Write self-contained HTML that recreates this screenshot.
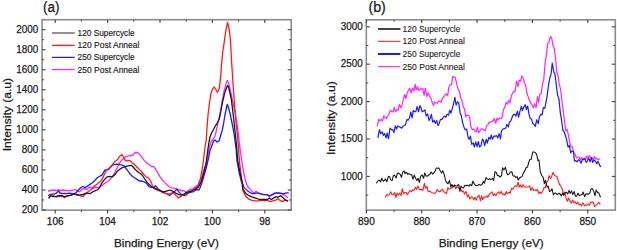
<!DOCTYPE html><html><head><meta charset="utf-8"><style>html,body{margin:0;padding:0;background:#fff;width:617px;height:250px;overflow:hidden}svg{display:block}text{font-family:"Liberation Sans", sans-serif;fill:#1a1a1a;stroke:#1a1a1a;stroke-width:0.25px}</style></head><body>
<svg width="617" height="250" viewBox="0 0 617 250">
<rect x="0" y="0" width="617" height="250" fill="#fff"/>
<rect x="42.1" y="19.7" width="249.1" height="190.4" fill="none" stroke="#8c8c8c" stroke-width="1.6"/>
<line x1="42.1" y1="210" x2="45.6" y2="210" stroke="#404040" stroke-width="1.1"/>
<line x1="291.2" y1="210" x2="287.7" y2="210" stroke="#404040" stroke-width="1.1"/>
<text x="38.2" y="213.1" font-size="10.8" text-anchor="end" textLength="16.5" lengthAdjust="spacingAndGlyphs">200</text>
<line x1="42.1" y1="189.97" x2="45.6" y2="189.97" stroke="#404040" stroke-width="1.1"/>
<line x1="291.2" y1="189.97" x2="287.7" y2="189.97" stroke="#404040" stroke-width="1.1"/>
<text x="38.2" y="193.07" font-size="10.8" text-anchor="end" textLength="16.5" lengthAdjust="spacingAndGlyphs">400</text>
<line x1="42.1" y1="169.93" x2="45.6" y2="169.93" stroke="#404040" stroke-width="1.1"/>
<line x1="291.2" y1="169.93" x2="287.7" y2="169.93" stroke="#404040" stroke-width="1.1"/>
<text x="38.2" y="173.03" font-size="10.8" text-anchor="end" textLength="16.5" lengthAdjust="spacingAndGlyphs">600</text>
<line x1="42.1" y1="149.9" x2="45.6" y2="149.9" stroke="#404040" stroke-width="1.1"/>
<line x1="291.2" y1="149.9" x2="287.7" y2="149.9" stroke="#404040" stroke-width="1.1"/>
<text x="38.2" y="153" font-size="10.8" text-anchor="end" textLength="16.5" lengthAdjust="spacingAndGlyphs">800</text>
<line x1="42.1" y1="129.86" x2="45.6" y2="129.86" stroke="#404040" stroke-width="1.1"/>
<line x1="291.2" y1="129.86" x2="287.7" y2="129.86" stroke="#404040" stroke-width="1.1"/>
<text x="38.2" y="132.96" font-size="10.8" text-anchor="end" textLength="22" lengthAdjust="spacingAndGlyphs">1000</text>
<line x1="42.1" y1="109.83" x2="45.6" y2="109.83" stroke="#404040" stroke-width="1.1"/>
<line x1="291.2" y1="109.83" x2="287.7" y2="109.83" stroke="#404040" stroke-width="1.1"/>
<text x="38.2" y="112.93" font-size="10.8" text-anchor="end" textLength="22" lengthAdjust="spacingAndGlyphs">1200</text>
<line x1="42.1" y1="89.8" x2="45.6" y2="89.8" stroke="#404040" stroke-width="1.1"/>
<line x1="291.2" y1="89.8" x2="287.7" y2="89.8" stroke="#404040" stroke-width="1.1"/>
<text x="38.2" y="92.9" font-size="10.8" text-anchor="end" textLength="22" lengthAdjust="spacingAndGlyphs">1400</text>
<line x1="42.1" y1="69.76" x2="45.6" y2="69.76" stroke="#404040" stroke-width="1.1"/>
<line x1="291.2" y1="69.76" x2="287.7" y2="69.76" stroke="#404040" stroke-width="1.1"/>
<text x="38.2" y="72.86" font-size="10.8" text-anchor="end" textLength="22" lengthAdjust="spacingAndGlyphs">1600</text>
<line x1="42.1" y1="49.73" x2="45.6" y2="49.73" stroke="#404040" stroke-width="1.1"/>
<line x1="291.2" y1="49.73" x2="287.7" y2="49.73" stroke="#404040" stroke-width="1.1"/>
<text x="38.2" y="52.83" font-size="10.8" text-anchor="end" textLength="22" lengthAdjust="spacingAndGlyphs">1800</text>
<line x1="42.1" y1="29.69" x2="45.6" y2="29.69" stroke="#404040" stroke-width="1.1"/>
<line x1="291.2" y1="29.69" x2="287.7" y2="29.69" stroke="#404040" stroke-width="1.1"/>
<text x="38.2" y="32.79" font-size="10.8" text-anchor="end" textLength="22" lengthAdjust="spacingAndGlyphs">2000</text>
<line x1="42.1" y1="199.98" x2="44.1" y2="199.98" stroke="#404040" stroke-width="1"/>
<line x1="291.2" y1="199.98" x2="289.2" y2="199.98" stroke="#404040" stroke-width="1"/>
<line x1="42.1" y1="179.95" x2="44.1" y2="179.95" stroke="#404040" stroke-width="1"/>
<line x1="291.2" y1="179.95" x2="289.2" y2="179.95" stroke="#404040" stroke-width="1"/>
<line x1="42.1" y1="159.91" x2="44.1" y2="159.91" stroke="#404040" stroke-width="1"/>
<line x1="291.2" y1="159.91" x2="289.2" y2="159.91" stroke="#404040" stroke-width="1"/>
<line x1="42.1" y1="139.88" x2="44.1" y2="139.88" stroke="#404040" stroke-width="1"/>
<line x1="291.2" y1="139.88" x2="289.2" y2="139.88" stroke="#404040" stroke-width="1"/>
<line x1="42.1" y1="119.85" x2="44.1" y2="119.85" stroke="#404040" stroke-width="1"/>
<line x1="291.2" y1="119.85" x2="289.2" y2="119.85" stroke="#404040" stroke-width="1"/>
<line x1="42.1" y1="99.81" x2="44.1" y2="99.81" stroke="#404040" stroke-width="1"/>
<line x1="291.2" y1="99.81" x2="289.2" y2="99.81" stroke="#404040" stroke-width="1"/>
<line x1="42.1" y1="79.78" x2="44.1" y2="79.78" stroke="#404040" stroke-width="1"/>
<line x1="291.2" y1="79.78" x2="289.2" y2="79.78" stroke="#404040" stroke-width="1"/>
<line x1="42.1" y1="59.75" x2="44.1" y2="59.75" stroke="#404040" stroke-width="1"/>
<line x1="291.2" y1="59.75" x2="289.2" y2="59.75" stroke="#404040" stroke-width="1"/>
<line x1="42.1" y1="39.71" x2="44.1" y2="39.71" stroke="#404040" stroke-width="1"/>
<line x1="291.2" y1="39.71" x2="289.2" y2="39.71" stroke="#404040" stroke-width="1"/>
<line x1="55.2" y1="210.1" x2="55.2" y2="213.6" stroke="#404040" stroke-width="1.1"/>
<line x1="55.2" y1="19.7" x2="55.2" y2="23" stroke="#404040" stroke-width="1.1"/>
<text x="55.2" y="224.6" font-size="10" text-anchor="middle">106</text>
<line x1="107.6" y1="210.1" x2="107.6" y2="213.6" stroke="#404040" stroke-width="1.1"/>
<line x1="107.6" y1="19.7" x2="107.6" y2="23" stroke="#404040" stroke-width="1.1"/>
<text x="107.6" y="224.6" font-size="10" text-anchor="middle">104</text>
<line x1="160" y1="210.1" x2="160" y2="213.6" stroke="#404040" stroke-width="1.1"/>
<line x1="160" y1="19.7" x2="160" y2="23" stroke="#404040" stroke-width="1.1"/>
<text x="160" y="224.6" font-size="10" text-anchor="middle">102</text>
<line x1="212.4" y1="210.1" x2="212.4" y2="213.6" stroke="#404040" stroke-width="1.1"/>
<line x1="212.4" y1="19.7" x2="212.4" y2="23" stroke="#404040" stroke-width="1.1"/>
<text x="212.4" y="224.6" font-size="10" text-anchor="middle">100</text>
<line x1="264.8" y1="210.1" x2="264.8" y2="213.6" stroke="#404040" stroke-width="1.1"/>
<line x1="264.8" y1="19.7" x2="264.8" y2="23" stroke="#404040" stroke-width="1.1"/>
<text x="264.8" y="224.6" font-size="10" text-anchor="middle">98</text>
<line x1="81.4" y1="210.1" x2="81.4" y2="212.1" stroke="#404040" stroke-width="1"/>
<line x1="81.4" y1="19.7" x2="81.4" y2="21.7" stroke="#404040" stroke-width="1"/>
<line x1="133.8" y1="210.1" x2="133.8" y2="212.1" stroke="#404040" stroke-width="1"/>
<line x1="133.8" y1="19.7" x2="133.8" y2="21.7" stroke="#404040" stroke-width="1"/>
<line x1="186.2" y1="210.1" x2="186.2" y2="212.1" stroke="#404040" stroke-width="1"/>
<line x1="186.2" y1="19.7" x2="186.2" y2="21.7" stroke="#404040" stroke-width="1"/>
<line x1="238.6" y1="210.1" x2="238.6" y2="212.1" stroke="#404040" stroke-width="1"/>
<line x1="238.6" y1="19.7" x2="238.6" y2="21.7" stroke="#404040" stroke-width="1"/>
<text x="43" y="11.9" font-size="14" textLength="16.4" lengthAdjust="spacingAndGlyphs">(a)</text>
<text x="166.5" y="246.8" font-size="11.5" text-anchor="middle" textLength="105" lengthAdjust="spacingAndGlyphs">Binding Energy (eV)</text>
<text transform="translate(10.6,114.6) rotate(-90)" x="0" y="0" font-size="11.5" text-anchor="middle" textLength="73.5" lengthAdjust="spacingAndGlyphs">Intensity (a.u)</text>
<polyline points="48.5,191 51,190.5 53.5,190 56,190.5 58.5,190 61,190.5 63.5,190 66,190.5 68,190.8 70.8,190.5 74,189.8 75.6,189.3 77.2,191.2 79.6,191.8 82,189 84.4,188.6 86.8,189.5 89,187.5 91,187.2 93,188.3 95,187.5 97,187.5 99,187.3 101,186 102,185.4 104.4,183.6 106.8,182 109.2,180.3 111.2,178 113.2,175.2 115,171.8 116.8,168.2 118,166 118.9,164 121.2,160.6 123.6,158.7 126,156.6 128.4,155.8 130.8,155.5 133.2,155 134.8,152.6 137.2,152.3 139.6,154.2 142,157.4 144.4,160.6 146.8,163 149.2,164.8 151.4,166.6 153.8,166.6 156.2,170.2 158.6,174.4 160.5,177.6 162.4,180 164.8,182.4 167.2,185 169.6,187 172,187.8 174.4,188.3 176.8,188.9 179.2,190 181.6,190.5 184,190.8 186.4,192.4 188.4,190.4 190.4,189.6 192.8,189 194.6,187.2 196.4,186 198.2,185.4 199.4,183.6 200.6,180.6 201.8,177 203,172.2 204.8,167.4 206,164 207.5,157 208.6,151.2 209.5,147 210.5,143.5 211.5,141 213.5,138.5 215,136 216.5,130 217.5,125 219.2,117.6 220.8,109.6 221.8,103 223,97 224,91 225.2,87 226.4,82.2 227.5,80.6 228.8,83.8 229.5,87 231.2,94.2 233.2,104 235.2,113 236.9,123 238.5,135 239.5,145 240.5,152 241.8,161 244.2,175 246.3,183.4 248.4,187.6 251.2,190.4 254,193.2 256.1,191.1 258.2,193.2 262.4,194.6 266.6,194.6 269.4,196.7 272.2,194.6 275,193.2 279.2,193.2 282,193.9 284.8,195.3 287.6,197.4" fill="none" stroke="#ff22ff" stroke-width="1.3" stroke-linejoin="round" stroke-linecap="round"/>
<polyline points="48.5,195.5 50.4,194.3 52.5,194.1 54.5,194 56.2,193.2 57.5,192 58.5,191 60,193 62.5,193.6 64.5,193.4 66,193.6 69.2,193.2 72.4,193.7 75.6,193.2 78,190.5 80.4,188 82.8,186.5 85.2,187.6 87.6,186 90,184.4 92.4,182.8 94.8,180.5 97.2,177.8 99.8,176.2 102,175.2 103.4,172.6 104.8,170.2 106.8,169.6 109.2,168.8 111.2,166.6 113,165 114.8,164.3 117.2,164.1 119.6,164.6 122,165.1 124.4,166.2 126,168.4 127.6,170.5 129.5,173.2 132.2,176.2 134.6,177.8 137,179.4 139.4,181 141.8,181 144.2,181.8 146.6,183.4 149,186.6 151.4,187.4 153.8,187.4 155.4,185.8 157,187.4 158.6,189.8 160.5,191.2 162.4,192.4 164.8,193.2 167.2,193.7 169.6,195.6 172,193.2 174.4,191.6 176.8,189.2 179.2,192.4 181.6,194.8 184,195.6 186.4,194.8 188.5,192.8 191.4,192.2 193.6,191.6 195.5,190.2 197,189.6 198.8,190.2 200.6,186.6 201.8,183 203.6,177 205.4,171 207.2,164 208.5,158 210.2,149.6 211,148 212.5,144 213.5,141 215,140 217,142 219,141 220.5,136 222,131 223.5,124 224.8,116 226.2,109 227.2,104.3 228.8,108.6 230.4,115 231.6,121 233.6,131 235.2,142 236.2,150 237,161 239.4,173.8 241.8,183.4 242.1,183.4 244.2,187.6 247,190.4 249.8,192.5 252.6,193.9 255.4,193.2 258.2,193.2 261,193.9 263.8,194.6 267.3,194.6 269.4,196 272.2,194.6 275,193.2 277.8,192.9 280.6,193.2 283.4,193.9 286.2,192.9 288.3,192.9" fill="none" stroke="#1a1aff" stroke-width="1.3" stroke-linejoin="round" stroke-linecap="round"/>
<polyline points="49,198.3 50.6,195.5 52.3,195 53.8,195.8 55.5,196.7 57,197 58.5,196.5 60,196.2 62.5,196.5 64.5,197.8 66.5,196.5 68.5,195.8 70.8,194.8 74,194 77.2,195.2 80.4,195.7 82.8,196.8 85.2,193.5 87.6,192 90,190.5 92.4,188.5 94.8,185.8 97.2,184 99.6,182.3 102,179.5 103.6,176 106,171 107.6,169.8 110,167.1 112.4,164.6 114.8,161.5 117.2,159.8 119.6,156.6 122,154.5 123.6,157.4 125.2,160.6 127.6,160.3 130,160.6 132.4,163 134.7,164.8 137.1,167.2 139.5,169.6 141.9,172 144.3,175.2 146.6,177 149,178.6 150.6,181 152.2,185 153.8,188.2 156.2,189.8 158.6,190.6 161,191.5 163.4,192.3 164.8,193.2 167.2,194 169.6,194 172,193.2 174.4,194 176.8,196.4 178.4,198 180.8,196.4 183.2,194.8 185.6,194 188,192.2 191.6,190.8 195.2,188.4 197.6,186 199.2,182 200.6,178.2 201.8,171 203,164 204.6,150 206.2,140 207,128 208,115 209.6,102.2 211,93 212.8,88.6 214.2,87 215.8,89.4 217.4,92.2 219,89.4 220.2,81 221,73 221.5,65 222.6,53 224.4,40.8 226,29.6 227.6,22.4 229.2,29.6 230.5,40.8 231,50 231.6,62 232.4,74.2 233.2,86 234,97 234.6,106 235.3,113 236,122.8 237,131 237.6,137.2 238.3,145 239,155 239.6,163 241,173.8 242.8,190.4 245.6,196 248.4,198.8 251.2,200.2 254,200.9 258.2,200.9 262.4,200.2 264.5,200.9 267.3,200.2 270.1,201.6 272.9,200.9 275.7,200.2 277.8,198.8 279.9,200.2 282,201.6 284.8,200.2 287.6,200.9" fill="none" stroke="#ff1a1a" stroke-width="1.3" stroke-linejoin="round" stroke-linecap="round"/>
<polyline points="49,197.5 50.5,196.2 52,196.2 53.5,196.6 55,196.6 57,196.2 58.5,195.5 60,195.6 62,195.5 64,196.8 66,196.2 67.6,195.6 70.8,195.3 74,194 77.2,194.6 80,195.2 82,194.6 84.4,194 87.6,193.2 90,193.7 92.4,192 94.8,190.8 97.2,190 99.6,187.6 102,182.8 104.4,179.6 106.8,177.2 109.2,176.4 112.4,176.8 114.8,174.8 117.2,171.3 119.6,169.4 122,167.8 124.4,167 126.8,166.2 129.2,165.6 131.6,165.5 133.2,167 134.8,169 136.4,170.5 138.6,172.5 140.4,173.5 142,175 143.4,177 145,179.4 147.4,182.6 149.8,185 152.2,187.4 154.6,188.2 157,189 159.4,189.8 161.5,191.2 163.5,191.8 165.5,191.4 167.2,190.8 169.6,190 172,190.8 174.4,192.4 176.8,193.7 179.2,194.8 181.6,194.8 184,194 186.4,192.4 188.4,192 191.4,191.2 193.6,190 195.2,189.4 197.6,187.8 199.4,185.4 201.2,181.8 203,175.8 204.8,168.5 206,164 207.8,150 209,142 210,137 211.5,133 213.5,129.5 215.5,125.5 216.8,124 219.2,119 220.5,113 222.4,102.7 224.8,92.6 227.2,86.2 227.6,85.4 228.8,87.8 231.2,98.5 232.4,108 233.6,118 235.2,133 236.5,145 237.8,161 240.2,173.8 242.6,183.4 242.8,189 245.6,193.2 248.4,195.3 251.2,196.7 255.4,198.1 259.6,199.5 263.8,199.5 267.3,199.5 269.4,198.1 271.5,199.5 273.6,198.1 275.7,196.7 277.8,197.4 280.6,195.7 282.7,197.4 284.8,199.5 287.6,200.9" fill="none" stroke="#1a1a1a" stroke-width="1.3" stroke-linejoin="round" stroke-linecap="round"/>
<line x1="52" y1="33" x2="74.6" y2="33" stroke="#222" stroke-width="1.0"/>
<text x="77.6" y="35.9" font-size="8.2" textLength="57" lengthAdjust="spacingAndGlyphs" style="stroke-width:0.15px">120 Supercycle</text>
<line x1="52" y1="45.4" x2="74.6" y2="45.4" stroke="#ff1a1a" stroke-width="1.3"/>
<text x="77.6" y="48.3" font-size="8.2" textLength="61.8" lengthAdjust="spacingAndGlyphs" style="stroke-width:0.15px">120 Post Anneal</text>
<line x1="52" y1="57.4" x2="74.6" y2="57.4" stroke="#1a1aff" stroke-width="1.2"/>
<text x="77.6" y="60.3" font-size="8.2" textLength="57" lengthAdjust="spacingAndGlyphs" style="stroke-width:0.15px">250 Supercycle</text>
<line x1="52" y1="69.6" x2="74.6" y2="69.6" stroke="#ff22ff" stroke-width="1.2"/>
<text x="77.6" y="72.5" font-size="8.2" textLength="61.8" lengthAdjust="spacingAndGlyphs" style="stroke-width:0.15px">250 Post Anneal</text>
<rect x="366.3" y="19.8" width="249" height="190.3" fill="none" stroke="#8c8c8c" stroke-width="1.6"/>
<line x1="366.3" y1="176.4" x2="369.8" y2="176.4" stroke="#404040" stroke-width="1.1"/>
<line x1="615.3" y1="176.4" x2="611.8" y2="176.4" stroke="#404040" stroke-width="1.1"/>
<text x="362.8" y="179.5" font-size="10.8" text-anchor="end" textLength="22" lengthAdjust="spacingAndGlyphs">1000</text>
<line x1="366.3" y1="139" x2="369.8" y2="139" stroke="#404040" stroke-width="1.1"/>
<line x1="615.3" y1="139" x2="611.8" y2="139" stroke="#404040" stroke-width="1.1"/>
<text x="362.8" y="142.1" font-size="10.8" text-anchor="end" textLength="22" lengthAdjust="spacingAndGlyphs">1500</text>
<line x1="366.3" y1="101.6" x2="369.8" y2="101.6" stroke="#404040" stroke-width="1.1"/>
<line x1="615.3" y1="101.6" x2="611.8" y2="101.6" stroke="#404040" stroke-width="1.1"/>
<text x="362.8" y="104.7" font-size="10.8" text-anchor="end" textLength="22" lengthAdjust="spacingAndGlyphs">2000</text>
<line x1="366.3" y1="64.2" x2="369.8" y2="64.2" stroke="#404040" stroke-width="1.1"/>
<line x1="615.3" y1="64.2" x2="611.8" y2="64.2" stroke="#404040" stroke-width="1.1"/>
<text x="362.8" y="67.3" font-size="10.8" text-anchor="end" textLength="22" lengthAdjust="spacingAndGlyphs">2500</text>
<line x1="366.3" y1="26.8" x2="369.8" y2="26.8" stroke="#404040" stroke-width="1.1"/>
<line x1="615.3" y1="26.8" x2="611.8" y2="26.8" stroke="#404040" stroke-width="1.1"/>
<text x="362.8" y="29.9" font-size="10.8" text-anchor="end" textLength="22" lengthAdjust="spacingAndGlyphs">3000</text>
<line x1="366.3" y1="195.1" x2="368.3" y2="195.1" stroke="#404040" stroke-width="1"/>
<line x1="615.3" y1="195.1" x2="613.3" y2="195.1" stroke="#404040" stroke-width="1"/>
<line x1="366.3" y1="157.7" x2="368.3" y2="157.7" stroke="#404040" stroke-width="1"/>
<line x1="615.3" y1="157.7" x2="613.3" y2="157.7" stroke="#404040" stroke-width="1"/>
<line x1="366.3" y1="120.3" x2="368.3" y2="120.3" stroke="#404040" stroke-width="1"/>
<line x1="615.3" y1="120.3" x2="613.3" y2="120.3" stroke="#404040" stroke-width="1"/>
<line x1="366.3" y1="82.9" x2="368.3" y2="82.9" stroke="#404040" stroke-width="1"/>
<line x1="615.3" y1="82.9" x2="613.3" y2="82.9" stroke="#404040" stroke-width="1"/>
<line x1="366.3" y1="45.5" x2="368.3" y2="45.5" stroke="#404040" stroke-width="1"/>
<line x1="615.3" y1="45.5" x2="613.3" y2="45.5" stroke="#404040" stroke-width="1"/>
<line x1="366.4" y1="210.1" x2="366.4" y2="213.6" stroke="#404040" stroke-width="1.1"/>
<line x1="366.4" y1="19.8" x2="366.4" y2="23.1" stroke="#404040" stroke-width="1.1"/>
<text x="366.4" y="224.6" font-size="10" text-anchor="middle">890</text>
<line x1="421.75" y1="210.1" x2="421.75" y2="213.6" stroke="#404040" stroke-width="1.1"/>
<line x1="421.75" y1="19.8" x2="421.75" y2="23.1" stroke="#404040" stroke-width="1.1"/>
<text x="421.75" y="224.6" font-size="10" text-anchor="middle">880</text>
<line x1="477.1" y1="210.1" x2="477.1" y2="213.6" stroke="#404040" stroke-width="1.1"/>
<line x1="477.1" y1="19.8" x2="477.1" y2="23.1" stroke="#404040" stroke-width="1.1"/>
<text x="477.1" y="224.6" font-size="10" text-anchor="middle">870</text>
<line x1="532.45" y1="210.1" x2="532.45" y2="213.6" stroke="#404040" stroke-width="1.1"/>
<line x1="532.45" y1="19.8" x2="532.45" y2="23.1" stroke="#404040" stroke-width="1.1"/>
<text x="532.45" y="224.6" font-size="10" text-anchor="middle">860</text>
<line x1="587.8" y1="210.1" x2="587.8" y2="213.6" stroke="#404040" stroke-width="1.1"/>
<line x1="587.8" y1="19.8" x2="587.8" y2="23.1" stroke="#404040" stroke-width="1.1"/>
<text x="587.8" y="224.6" font-size="10" text-anchor="middle">850</text>
<line x1="394.07" y1="210.1" x2="394.07" y2="212.1" stroke="#404040" stroke-width="1"/>
<line x1="394.07" y1="19.8" x2="394.07" y2="21.8" stroke="#404040" stroke-width="1"/>
<line x1="449.42" y1="210.1" x2="449.42" y2="212.1" stroke="#404040" stroke-width="1"/>
<line x1="449.42" y1="19.8" x2="449.42" y2="21.8" stroke="#404040" stroke-width="1"/>
<line x1="504.77" y1="210.1" x2="504.77" y2="212.1" stroke="#404040" stroke-width="1"/>
<line x1="504.77" y1="19.8" x2="504.77" y2="21.8" stroke="#404040" stroke-width="1"/>
<line x1="560.12" y1="210.1" x2="560.12" y2="212.1" stroke="#404040" stroke-width="1"/>
<line x1="560.12" y1="19.8" x2="560.12" y2="21.8" stroke="#404040" stroke-width="1"/>
<text x="368.4" y="11.9" font-size="14" textLength="17.4" lengthAdjust="spacingAndGlyphs">(b)</text>
<text x="491.2" y="246.8" font-size="11.5" text-anchor="middle" textLength="105" lengthAdjust="spacingAndGlyphs">Binding Energy (eV)</text>
<text transform="translate(335.2,118.1) rotate(-90)" x="0" y="0" font-size="11.5" text-anchor="middle" textLength="74" lengthAdjust="spacingAndGlyphs">Intensity (a.u)</text>
<polyline points="377.3,125.86 378.82,119.12 379.97,120.82 381.39,119.49 382.41,120.93 383.85,115.72 385.09,117.62 386.39,118.38 387.61,115.92 388.97,114.29 390.33,110.1 391.67,111.71 393.04,111.98 394.34,107.28 395.57,111.91 396.97,109.67 398.31,110.28 399.31,104.43 400.84,107.82 402.29,104.12 403.29,99.23 404.68,94.51 405.8,98.5 407.4,92.15 408.57,90.35 409.78,88.05 411.14,92.83 412.48,88.07 413.83,91.19 415.23,84.26 416.23,89.64 417.6,86.85 418.83,90.51 420.21,88.95 421.59,89.09 422.78,88.62 424.08,95.42 425.31,88.12 426.88,96.66 428.29,92.77 429.46,96.2 430.75,97.78 432.15,102.13 433.48,105.55 434.4,101.91 436.08,103.12 437.39,103.18 438.44,100.94 439.68,101.39 441.1,102.3 442.21,98.3 443.81,97.03 445.14,94.94 446.37,93.85 447.69,95.75 448.79,87.43 450.15,84.74 451.54,84.4 452.82,76.28 454.25,77.21 455.45,77.61 456.59,83.6 458.03,89.03 459.41,91.17 460.44,97.29 461.8,100.04 463.07,105.91 464.66,109.59 465.72,116.91 467.16,114.91 468.32,115.29 469.53,116.39 470.84,126.76 472.32,129.82 473.62,128.97 474.81,131.11 476.26,131.94 477.43,127.45 478.72,132.67 480.14,130.49 481.23,128.93 482.75,129.1 484.15,130.1 485.13,130.94 486.79,125.61 487.91,124.69 489.06,122.03 490.66,122.39 491.9,121.07 492.96,121.32 494.23,118.41 495.72,123.24 496.94,118.26 498.27,119.97 499.46,117.94 500.86,118.48 502,117.88 503.48,109.56 504.8,107.14 506.12,102.34 507.46,104.07 508.85,100.38 509.92,102.98 511.38,95.8 512.76,92.87 513.8,91.33 515.02,91.6 516.51,80.99 517.99,86.63 519.27,80.12 520.54,81.19 521.87,75.76 522.97,77.83 524.46,82.65 525.56,84.45 527,93.56 528.01,96.1 529.38,100.31 530.83,103.13 532.22,105.42 533.54,107.81 534.61,103.6 536.1,107.61 537.49,96.48 538.52,102.66 539.7,94.32 541.16,93.94 542.56,83.69 543.71,79.84 545.1,63.35 546.36,54.95 547.57,43.52 548.8,42.77 550.44,36.37 551.7,38.17 552.96,45.54 554.25,48.15 555.61,58.7 556.71,71.48 557.96,75.49 559.22,83.83 560.64,89.58 562.18,103.5 563.34,111.8 564.51,121.39 565.85,130.85 567.26,129.62 568.54,136.01 569.92,143.27 571.29,147.04 572.56,146.84 573.8,153 574.87,153.58 576.39,157.8 577.46,157.52 579,157.04 580.12,159.94 581.34,157.63 582.96,158.68 584.23,157.85 585.54,159.25 586.66,156.04 587.89,159.06 589.18,155.63 590.76,157.44 592.04,157.67 593.37,159.62 594.36,156.52 595.87,159.09 597.09,158.27 598.22,159.83 599.55,158.86" fill="none" stroke="#ff22ff" stroke-width="1.2" stroke-linejoin="round" stroke-linecap="round"/>
<polyline points="378.03,137.41 379.42,129.73 380.66,133.62 382.3,131.92 383.31,135.37 384.63,133.47 386.02,138 387.15,133.08 388.47,138.61 390.06,128.18 391.39,129.54 392.59,129.54 393.97,132.6 395.25,125.77 396.57,129.13 397.63,125.94 398.91,126.65 400.38,127.19 401.64,128.23 403.07,126.07 404.29,125.54 405.32,125.05 406.95,119.32 408,120.27 409.49,118.04 410.77,112.09 412.09,117.87 413.16,110.55 414.42,111.67 415.84,111.53 417.13,106.47 418.6,111.75 419.88,105.57 421.03,108.08 422.25,111.77 423.56,111.06 424.97,109.86 426.12,115.8 427.65,113.91 429.1,120.58 430.24,118.31 431.4,114.29 432.61,122.03 434,120.28 435.29,123.37 436.76,120.58 438.09,125.66 439.12,123.7 440.44,119.31 442.07,119.32 443.15,117.42 444.42,116.05 445.78,117.24 447.14,114.33 448.57,115.16 449.73,110.11 450.96,113.09 452.44,107.86 453.41,104.73 454.9,97.31 456.11,104.98 457.62,101.85 458.69,102.94 460.17,113.36 461.24,115.34 462.67,122.81 464.2,127.88 465.19,129.84 466.61,129.01 468,136.88 469.1,139.21 470.46,136.2 471.66,144.28 473.25,142.95 474.36,147.01 475.69,141.83 477.06,146.71 478.35,141.5 479.65,147.21 481.05,145.65 482.38,139.17 483.65,140.94 484.68,145.57 486.22,139.27 487.3,143.16 488.89,137.26 490.13,139.17 491.37,135.02 492.41,139.24 494,135.92 495.31,136.4 496.45,135.51 497.82,137.89 499.05,133.58 500.46,138.83 501.53,130.82 503.12,128.83 504.14,128.77 505.74,128.18 506.79,124.34 508.38,126.89 509.45,121.9 510.67,121.14 512.27,117.01 513.33,114.41 514.77,114.34 515.89,116.19 517.43,111.22 518.6,117.21 520,111.18 521.39,106.13 522.45,110.49 523.74,107.2 525.28,104.66 526.34,109.57 527.67,106.05 528.96,113.84 530.23,118.76 531.48,119 532.84,123.64 534.13,124.18 535.36,126.35 536.65,119.77 538.21,123.62 539.36,116.84 540.84,114.21 542.19,114.84 543.26,107.6 544.8,108.29 546.07,101.53 547,96.84 548.36,86.07 549.86,77.52 551.09,74.26 552.22,63.21 553.71,71.5 555,74.5 556.18,84.41 557.65,95.46 558.9,98.62 560.33,112.87 561.42,119.42 562.92,130.5 564.01,131.46 565.48,135.79 566.72,140.06 568.06,147.24 569.29,145.41 570.73,152.9 571.74,151.07 573.38,151.48 574.42,160.82 575.71,160.71 577.07,161.91 578.25,159.73 579.59,160.48 581.01,163.21 582.38,159.36 583.54,159.64 584.89,158.83 586.12,162.38 587.39,161.09 588.87,158.13 590.02,161.83 591.33,157.63 592.64,162.38 593.81,160.11 595.34,160.92 596.77,163.71 598.07,161.4 599.37,164.61 600.54,166.57" fill="none" stroke="#1a1aff" stroke-width="1.2" stroke-linejoin="round" stroke-linecap="round"/>
<polyline points="385.44,197.28 386.83,194.54 387.99,195.2 389.16,194.82 390.7,191.84 391.94,194.58 393.19,194.71 394.67,192.63 395.97,197.64 396.99,193.06 398.32,195.16 399.73,192.96 401.17,195.57 402.17,188.73 403.63,193.59 404.93,192.3 406.4,192.7 407.36,194.81 408.62,192.27 410.03,190.47 411.6,191.62 412.51,189.84 413.86,190.48 415.48,187.38 416.61,189.33 417.95,185.91 419.29,189.6 420.51,189.64 421.83,189.36 422.92,190.35 424.34,183.27 425.52,188.38 426.98,186.7 428.23,191.8 429.55,191.31 430.99,191.93 432.1,192.78 433.34,192.98 434.78,193.49 436.16,191.84 437.25,189.53 438.84,191.67 440.06,191.6 441.22,190.05 442.57,189.4 443.76,191.66 445.39,192.97 446.39,193.6 447.81,187.69 448.93,189.12 450.22,188.36 451.86,187.85 453.1,186.53 454.31,185.19 455.54,188.72 457.01,187.09 458.33,187.74 459.62,188.92 460.95,189.22 462.11,191.77 463.2,190.9 464.53,193.94 466,191.44 467.36,196.91 468.53,194.93 469.85,199.11 471.24,196.99 472.55,197.29 473.88,199.91 475,197.21 476.37,200.16 477.65,196.55 478.99,195.13 480.45,200.77 481.63,195.74 482.76,199.8 484.04,197.06 485.64,197.21 486.93,195.78 487.91,197.36 489.24,194.23 490.63,193.1 491.87,191.86 493.26,195.65 494.57,193.68 495.87,195.67 497.3,193.07 498.56,191.85 499.9,193.81 501.19,191.34 502.43,194.52 503.88,193.8 505.14,195.19 506.11,191.46 507.54,193.79 509.1,192.19 510.33,192.94 511.59,188.24 512.98,189.34 514.19,186.91 515.3,185.7 516.78,186.66 518.15,182.2 519.13,187.15 520.54,184.91 521.83,187.38 523.23,184.75 524.35,186.82 525.95,187.13 527.05,187.05 528.47,186.79 529.8,186.06 530.85,190.57 532.37,187.45 533.65,190.56 534.75,189.84 536.29,190.68 537.48,189.39 538.89,193.46 540.04,191.95 541.22,193.54 542.64,191.22 544.11,187.31 545.21,187.73 546.69,182.79 548,180.56 549.06,175.58 550.53,178.49 551.61,176.41 553.05,172.44 554.59,175.48 555.69,176.11 557.11,176.75 558.28,181.01 559.6,184.37 561.08,186.94 562.25,188.78 563.33,194.11 564.95,192.2 566.14,198.19 567.34,201.22 568.67,197.99 569.82,200.84 571.3,203.14 572.66,199.98 573.86,202.65 575.15,201.77 576.39,204.09 577.66,202.03 578.97,204.8 580.24,203.83 581.51,205.88 582.82,202.7 584.49,205.77 585.47,204.82 586.72,205.29 588.19,203.91 589.41,205.11 590.64,201.97 591.9,202.09 593.21,202.09 594.58,206.61 596.17,205.21 597.34,203.65 598.74,202.28 599.97,204.17" fill="none" stroke="#ff1a1a" stroke-width="1.1" stroke-linejoin="round" stroke-linecap="round"/>
<polyline points="376.46,182.97 378.02,180.69 379.11,180.23 380.67,181.96 381.68,178.28 383.24,181.33 384.47,180.29 385.54,178.96 386.92,181.71 388.44,176.41 389.57,176.67 390.72,179.91 392.21,180.41 393.38,175.42 394.71,175.15 396.12,178.12 397.29,173.5 398.63,173.13 400.08,174.19 401.48,177.26 402.71,172.17 404.03,170.9 405.05,173.76 406.3,172.17 407.75,174.33 409.07,173.59 410.27,174.68 411.7,174.76 413.01,179.1 414.29,175.11 415.57,178.26 416.9,180.54 418.08,178.35 419.32,182.45 420.76,176.11 422.2,175.02 423.55,178.33 424.76,172.93 426.01,175.94 427.47,176.08 428.78,174.9 429.75,174.69 431.07,171.95 432.67,174.15 433.61,173.06 435.21,170.83 436.28,168.14 437.81,168.24 438.81,167.91 440.34,170.95 441.61,173.09 442.73,170.62 444.12,174.19 445.34,179.71 446.8,182.69 447.93,183.79 449.53,180.53 450.85,186.99 451.94,184.4 453.1,186.83 454.69,185.18 456.04,186.03 457.25,185.72 458.67,184.34 459.95,191.28 460.96,185.99 462.25,187.79 463.57,187.86 464.94,185.22 466.47,185.64 467.52,185.21 469.03,186.13 470.06,184.44 471.68,185.65 472.86,181.04 474.23,183.65 475.44,185.57 476.59,185.64 478.16,185.09 479.21,184.55 480.62,185.37 482.08,184.23 483.39,181.29 484.42,183.24 485.97,177.52 487,178.72 488.52,179.61 489.6,178.58 490.81,179.64 492.5,178.32 493.69,180.43 494.99,171.65 496.22,172.47 497.49,175.68 498.7,175.57 500.03,177.18 501.55,175.63 502.56,167.89 504.02,169.81 505.43,167.2 506.77,173.1 507.93,174.92 509.12,173.9 510.31,172 511.86,171.75 513.04,175.83 514.55,175.96 515.71,177.46 517.09,176.61 518.2,180 519.76,177.81 521.03,177.06 522.25,176.07 523.31,173.24 524.96,170.62 526.06,167.75 527.59,166.99 528.78,162.18 529.87,159.5 531.21,159.32 532.74,151.96 533.9,152.01 535.37,152.46 536.69,154.31 537.97,160.57 538.95,160.05 540.27,171.77 541.89,175.74 543.16,177.45 544.39,183.56 545.48,180.29 547.09,187.01 548.07,186.05 549.57,191.6 550.88,190.6 551.98,188.71 553.42,194.84 554.8,192.98 555.9,193.24 557.24,194.64 558.48,193.62 559.71,193.4 561.38,196.04 562.59,193 563.79,195.4 564.91,193.09 566.25,192.14 567.69,193.94 569.05,190.33 570.11,193.41 571.42,190.93 572.83,194.45 574.27,191.52 575.4,196.22 576.75,196.08 577.95,193.09 579.26,195.58 580.83,194.92 582.11,194.55 583.12,191.97 584.59,196.64 586.06,193.85 587.21,193.86 588.47,194.24 589.71,193.39 590.98,188.96 592.2,188.5 593.67,191.21 595.05,195.75 596.13,190.17 597.7,192.63 598.93,193.11 600.38,196.95" fill="none" stroke="#1a1a1a" stroke-width="1.1" stroke-linejoin="round" stroke-linecap="round"/>
<line x1="378" y1="29" x2="400.4" y2="29" stroke="#444" stroke-width="2"/>
<text x="402.6" y="31.9" font-size="8.2" textLength="57.8" lengthAdjust="spacingAndGlyphs" style="stroke-width:0.1px">120 Supercycle</text>
<line x1="378" y1="41.4" x2="400.4" y2="41.4" stroke="#ff3030" stroke-width="1.1"/>
<text x="402.6" y="44.3" font-size="8.2" textLength="62.4" lengthAdjust="spacingAndGlyphs" style="stroke-width:0.1px">120 Post Anneal</text>
<line x1="378" y1="54" x2="400.4" y2="54" stroke="#1a1aff" stroke-width="2"/>
<text x="402.6" y="56.9" font-size="8.2" textLength="57.8" lengthAdjust="spacingAndGlyphs" style="stroke-width:0.1px">250 Supercycle</text>
<line x1="378" y1="66.6" x2="400.4" y2="66.6" stroke="#ff22ff" stroke-width="1.1"/>
<text x="402.6" y="69.5" font-size="8.2" textLength="62.4" lengthAdjust="spacingAndGlyphs" style="stroke-width:0.1px">250 Post Anneal</text>
</svg></body></html>
